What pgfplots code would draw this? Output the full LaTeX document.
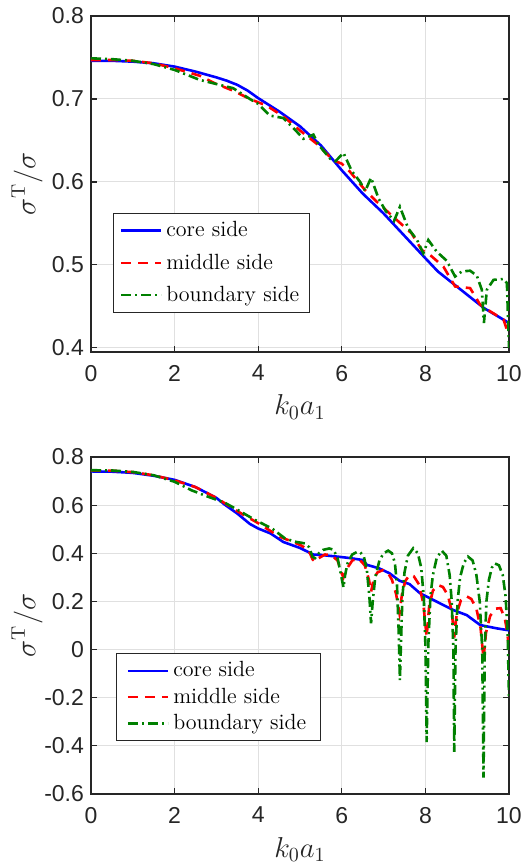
\documentclass[border=0pt]{standalone}
\usepackage{fontspec}
\usepackage{pgfplots}
\pgfplotsset{compat=1.18}
\newfontfamily\ticksfont{Liberation Sans}
\definecolor{mblue}{rgb}{0,0,1}
\definecolor{mred}{rgb}{1,0,0}
\definecolor{mgreen}{rgb}{0,0.5,0}
\definecolor{axcol}{gray}{0.15}
\definecolor{gridcol}{gray}{0.88}
\pgfplotsset{
  myaxis/.style={
    scale only axis, width=209pt,
    xmin=0, xmax=10, xtick={0,2,4,6,8,10},
    grid=major, major grid style={gridcol, line width=0.5pt},
    axis line style={axcol, line width=0.6pt},
    tick style={axcol, line width=0.6pt},
    major tick length=3pt,
    tick align=inside,
    ticklabel style={font=\ticksfont\fontsize{11.5}{13}\selectfont, text=axcol},
    /pgf/number format/assume math mode=true,
    xlabel={$k_0a_1$}, ylabel={$\sigma^{\mathrm{T}}/\sigma$},
    every axis x label/.style={at={(axis description cs:0.5,-0.164)}, anchor=center, font=\fontsize{14}{16}\selectfont, text=axcol},
    every axis y label/.style={at={(axis description cs:-0.153,0.5)}, anchor=center, rotate=90, font=\fontsize{14}{16}\selectfont, text=axcol},
    xticklabel style={yshift=-3pt},
    legend cell align=left,
    legend image code/.code={\draw[##1] (0pt,0pt) -- (20pt,0pt);},
    legend style={font=\fontsize{11}{13}\selectfont, draw=axcol, fill=white, anchor=north west, line width=0.6pt},
  },
  core/.style={mblue, line width=1.3pt, solid},
  middle/.style={mred, line width=1.3pt, dash pattern=on 5pt off 3.5pt},
  boundary/.style={mgreen, line width=1.3pt, dash pattern=on 5pt off 2pt on 1pt off 2pt},
}
\begin{document}
\begin{tikzpicture}
\path[use as bounding box] (-45.5pt,-35pt) rectangle (216pt,397pt);
% ---------------- top axis ----------------
\begin{axis}[myaxis, at={(0pt,221pt)}, anchor=south west, height=168pt,
  ymin=0.395, ymax=0.8, ytick={0.4,0.5,0.6,0.7,0.8},
  legend style={at={(axis description cs:0.053,0.414)}, row sep=3pt}]
\addplot[core] coordinates {
(0,0.746) (0.5,0.746) (1,0.745) (1.5,0.743) (2,0.739) (2.5,0.733) (3,0.726)
(3.25,0.722) (3.5,0.717) (3.75,0.710) (4,0.701) (4.5,0.685) (5,0.667) (5.5,0.644) (6,0.614)
(6.5,0.586) (7,0.562) (7.5,0.535) (8,0.508) (8.3,0.492) (8.75,0.474) (9.4,0.448) (10,0.430)};
\addlegendentry{core side}
\addplot[middle] coordinates {
(0,0.747) (0.5,0.747) (1,0.746) (1.5,0.743) (2,0.737) (2.6,0.728) (3,0.718)
(3.4,0.710) (3.8,0.700) (4.2,0.692) (4.6,0.679) (5.0,0.662) (5.4,0.646) (5.8,0.626)
(6.0,0.622) (6.2,0.612) (6.56,0.590) (6.84,0.576) (7.23,0.558) (7.67,0.538) (7.91,0.518)
(8.11,0.512) (8.43,0.498) (8.71,0.474) (9.07,0.472) (9.31,0.452) (9.55,0.444) (9.87,0.434)
(9.95,0.422) (10,0.415)};
\addlegendentry{middle side}
\addplot[boundary] coordinates {
(0,0.749) (0.5,0.748) (1,0.746) (1.5,0.742) (2,0.735) (2.6,0.723) (3,0.718) (3.4,0.713)
(3.8,0.700) (4.0,0.694) (4.28,0.680) (4.6,0.677) (4.88,0.663) (5.08,0.652) (5.32,0.657)
(5.44,0.645) (5.72,0.628) (5.85,0.625) (6.04,0.635) (6.24,0.613) (6.44,0.600) (6.56,0.589)
(6.70,0.605) (6.88,0.580) (7.05,0.565) (7.25,0.553) (7.39,0.570) (7.59,0.544) (7.80,0.530)
(7.95,0.514) (8.07,0.530) (8.27,0.516) (8.51,0.505) (8.71,0.486) (8.87,0.492) (9.07,0.493)
(9.23,0.487) (9.35,0.470) (9.40,0.430) (9.47,0.470) (9.63,0.482) (9.87,0.483) (9.95,0.478)
(10.0,0.400)};
\addlegendentry{boundary side}
\end{axis}
% ---------------- bottom axis ----------------
\begin{axis}[myaxis, at={(0pt,0pt)}, anchor=south west, height=168.5pt,
  ymin=-0.6, ymax=0.8, ytick={-0.6,-0.4,-0.2,0,0.2,0.4,0.6,0.8},
  legend style={at={(axis description cs:0.06,0.418)}, row sep=0pt, inner xsep=5pt}]
\addplot[core] coordinates {
(0,0.740) (0.5,0.739) (1,0.734) (1.5,0.722) (2,0.705) (2.5,0.675) (3,0.630) (3.2,0.602)
(3.5,0.565) (3.8,0.522) (4.0,0.503) (4.3,0.482) (4.6,0.447) (5.0,0.422) (5.2,0.405)
(5.3,0.395) (5.5,0.393) (5.9,0.386) (6.2,0.380) (6.5,0.372) (6.6,0.352) (6.9,0.337)
(7.14,0.317) (7.38,0.286) (7.62,0.272) (7.87,0.234) (8.19,0.206) (8.67,0.164) (8.99,0.143)
(9.31,0.102) (9.71,0.088) (10,0.080)};
\addlegendentry{core side}
\addplot[middle] coordinates {
(0,0.744) (0.5,0.743) (1,0.737) (1.5,0.724) (2,0.703) (2.5,0.675) (3.0,0.630) (3.5,0.575)
(4.0,0.525) (4.5,0.470) (5.0,0.435) (5.2,0.415) (5.30,0.375) (5.36,0.365) (5.45,0.380)
(5.6,0.395) (5.75,0.392) (5.9,0.370) (6.0,0.315) (6.04,0.300) (6.1,0.330) (6.25,0.370)
(6.4,0.378) (6.55,0.350) (6.65,0.290) (6.70,0.240) (6.76,0.290) (6.85,0.320) (6.98,0.330)
(7.1,0.320) (7.2,0.290) (7.3,0.230) (7.38,0.150) (7.44,0.230) (7.52,0.285) (7.62,0.310)
(7.72,0.305) (7.85,0.270) (7.95,0.190) (8.03,0.053) (8.09,0.180) (8.18,0.245) (8.3,0.268)
(8.42,0.260) (8.54,0.225) (8.63,0.160) (8.69,0.050) (8.75,0.150) (8.85,0.205) (8.98,0.222)
(9.1,0.210) (9.22,0.170) (9.32,0.090) (9.39,-0.037) (9.45,0.070) (9.55,0.140) (9.68,0.170)
(9.8,0.172) (9.9,0.130) (9.96,0.070) (10.0,0.000)};
\addlegendentry{middle side}
\addplot[boundary] coordinates {
(0,0.745) (0.5,0.744) (1,0.738) (1.5,0.724) (2,0.697) (2.4,0.662) (2.8,0.635) (3.2,0.610)
(3.45,0.586) (3.93,0.538) (4.33,0.503) (4.64,0.462) (4.88,0.448) (5.12,0.441) (5.22,0.425)
(5.30,0.385) (5.36,0.380) (5.45,0.400) (5.55,0.414) (5.7,0.420) (5.8,0.415) (5.9,0.380)
(5.97,0.320) (6.04,0.258) (6.08,0.310) (6.14,0.360) (6.25,0.395) (6.36,0.405) (6.44,0.405)
(6.53,0.385) (6.60,0.330) (6.66,0.220) (6.70,0.109) (6.74,0.200) (6.80,0.300) (6.90,0.370)
(7.00,0.400) (7.11,0.411) (7.20,0.400) (7.27,0.360) (7.32,0.270) (7.36,0.080) (7.39,-0.127)
(7.42,0.050) (7.45,0.220) (7.50,0.320) (7.58,0.390) (7.71,0.421) (7.82,0.400) (7.90,0.340)
(7.96,0.220) (8.00,0.020) (8.03,-0.384) (8.07,0.020) (8.12,0.220) (8.18,0.310) (8.27,0.380)
(8.39,0.411) (8.50,0.390) (8.58,0.310) (8.63,0.200) (8.67,0.000) (8.69,-0.425) (8.72,0.000)
(8.77,0.200) (8.83,0.300) (8.92,0.360) (9.02,0.386) (9.13,0.370) (9.22,0.310) (9.30,0.200)
(9.36,0.000) (9.39,-0.532) (9.42,0.000) (9.46,0.200) (9.52,0.290) (9.59,0.340) (9.66,0.358)
(9.76,0.350) (9.85,0.310) (9.92,0.220) (9.97,0.050) (10.0,-0.196)};
\addlegendentry{boundary side}
\end{axis}
\end{tikzpicture}
\end{document}
